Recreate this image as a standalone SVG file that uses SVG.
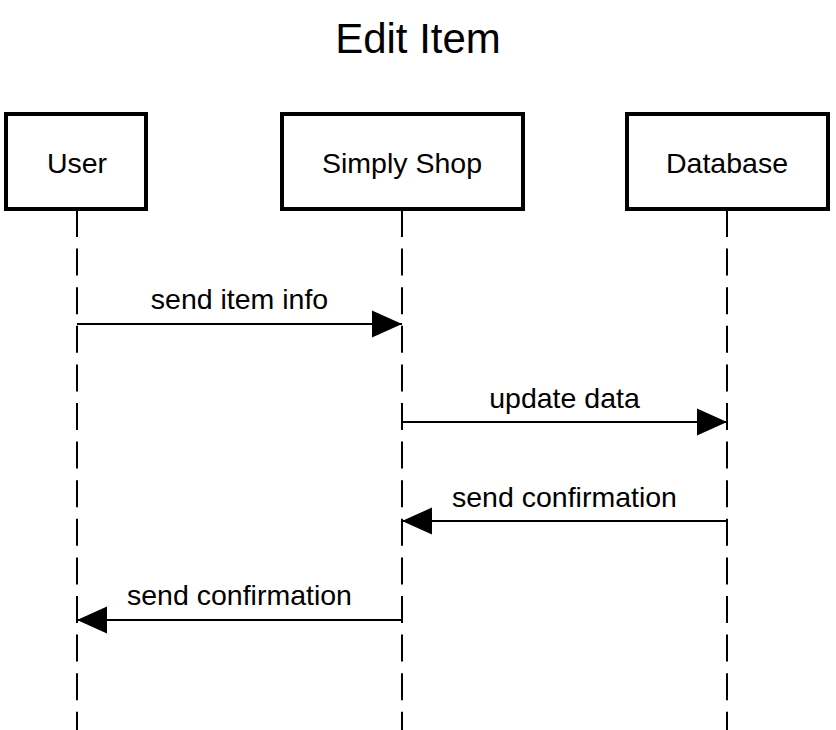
<svg xmlns="http://www.w3.org/2000/svg" width="836" height="730" viewBox="0 0 836 730">
  <style>
    .box { fill: #ffffff; stroke: #000000; stroke-width: 4; }
    .life { stroke: #000000; stroke-width: 2; stroke-dasharray: 27 11.6; fill: none; }
    .msg { stroke: #000000; stroke-width: 2; fill: none; }
    .t { font-family: "Liberation Sans", Arial, Helvetica, sans-serif; fill: #000000; text-anchor: middle; }
    .name { font-size: 28.5px; }
    .lbl { font-size: 28.5px; }
    .title { font-size: 42px; }
  </style>
  <defs>
    <marker id="ah" markerUnits="userSpaceOnUse" markerWidth="32" markerHeight="30" viewBox="0 0 32 30" refX="31" refY="15" orient="auto">
      <path d="M1,1.5 L31,15 L1,28.5 Z" fill="#000000"/>
    </marker>
  </defs>
  <rect x="0" y="0" width="836" height="730" fill="#ffffff"/>
  <text class="t title" x="418" y="53">Edit Item</text>

  <g id="lifelines">
    <line class="life" x1="77" y1="210" x2="77" y2="730"/>
    <line class="life" x1="402" y1="210" x2="402" y2="730"/>
    <line class="life" x1="727" y1="210" x2="727" y2="730"/>
  </g>

  <g id="user">
    <rect class="box" x="6" y="114" width="140" height="95"/>
    <text class="t name" x="77" y="173">User</text>
  </g>
  <g id="simply-shop">
    <rect class="box" x="282" y="114" width="241" height="95"/>
    <text class="t name" x="402" y="173">Simply Shop</text>
  </g>
  <g id="database">
    <rect class="box" x="627" y="114" width="201" height="95"/>
    <text class="t name" x="727" y="173">Database</text>
  </g>

  <g id="connectors">
    <line class="msg" x1="77" y1="324" x2="402" y2="324" marker-end="url(#ah)"/>
    <text class="t lbl" x="239.5" y="309">send item info</text>
    <line class="msg" x1="402" y1="422" x2="727" y2="422" marker-end="url(#ah)"/>
    <text class="t lbl" x="564.5" y="408">update data</text>
    <line class="msg" x1="727" y1="521" x2="402" y2="521" marker-end="url(#ah)"/>
    <text class="t lbl" x="564.5" y="507">send confirmation</text>
    <line class="msg" x1="402" y1="620" x2="77" y2="620" marker-end="url(#ah)"/>
    <text class="t lbl" x="239.5" y="605">send confirmation</text>
  </g>
</svg>
